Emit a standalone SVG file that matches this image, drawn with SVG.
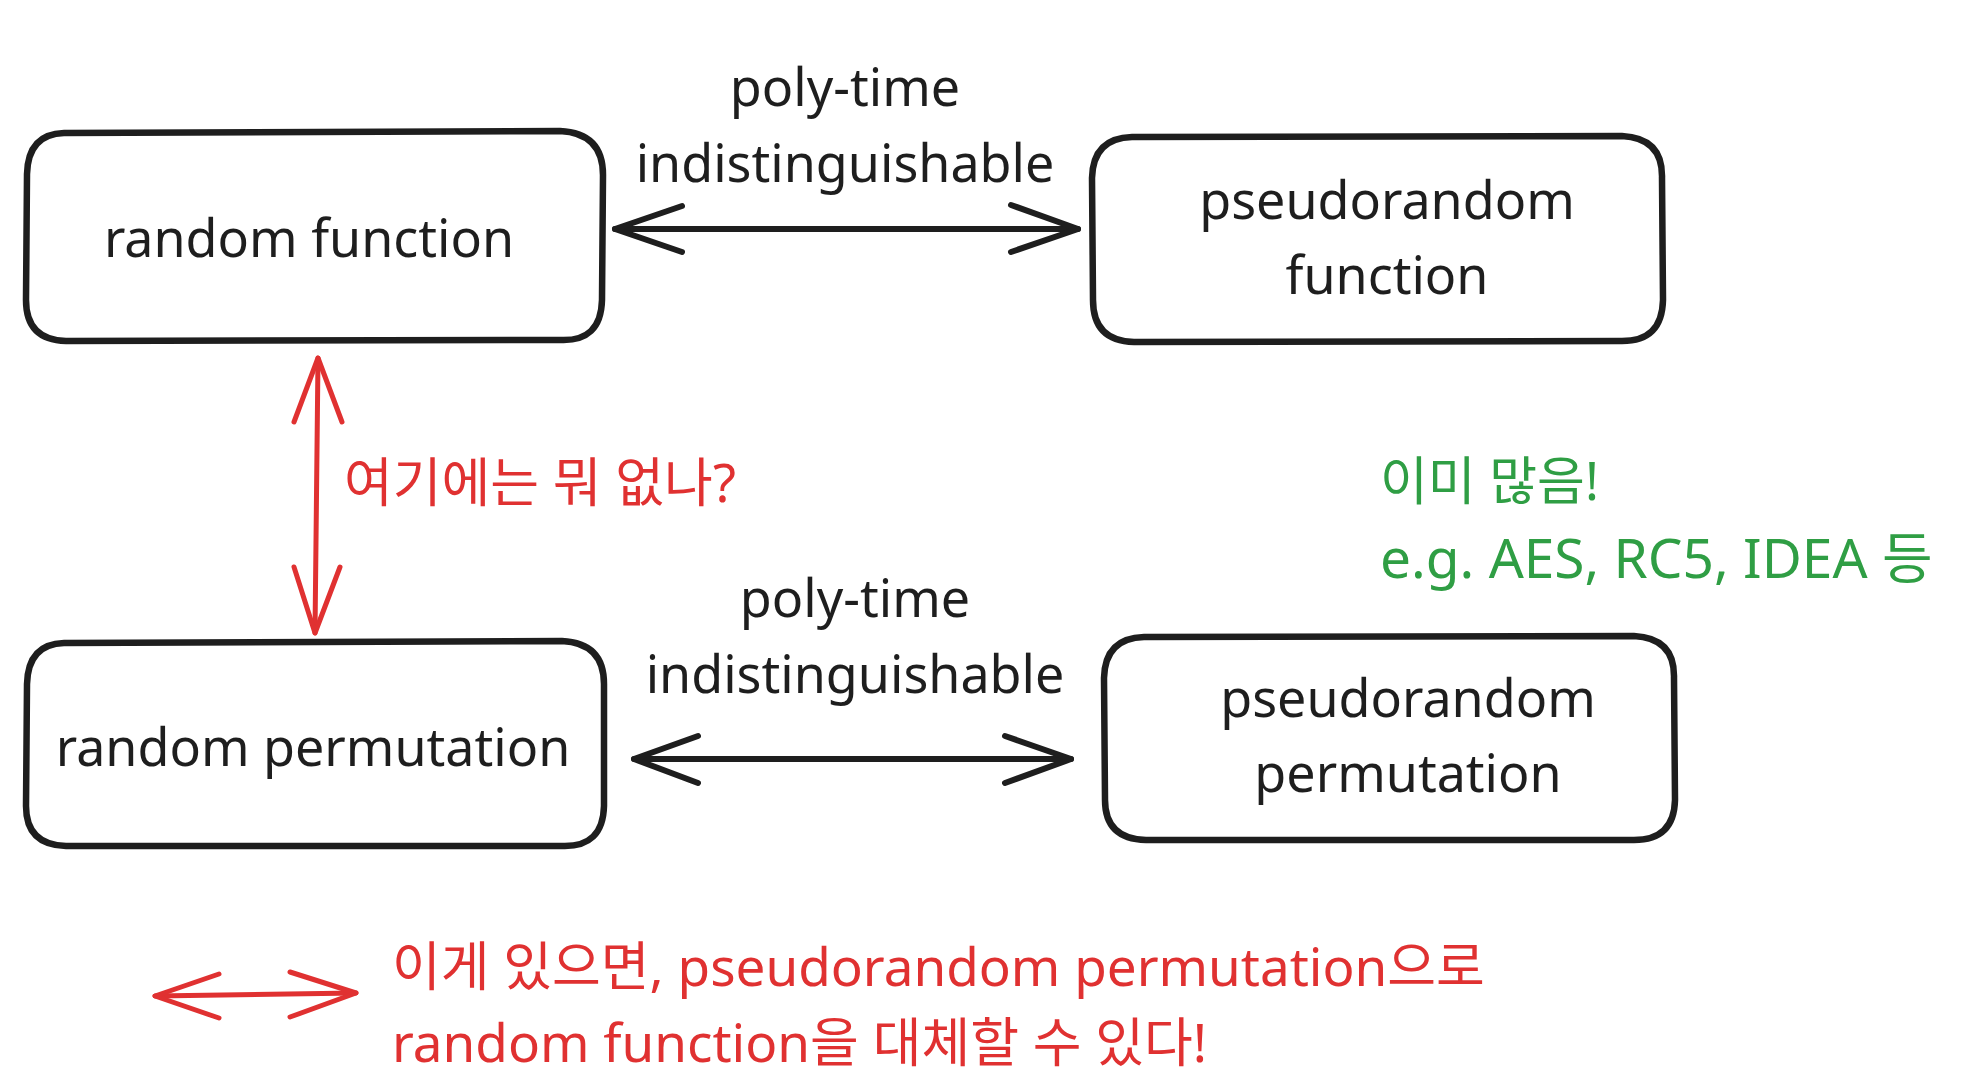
<svg xmlns="http://www.w3.org/2000/svg" width="1963" height="1085" viewBox="0 0 1963 1085">
<style>
.box{fill:#ffffff;stroke:#1e1e1e;stroke-width:6.5;stroke-linejoin:round}
.t{font-family:"Noto Sans","Noto Sans CJK KR",sans-serif;font-size:52px;fill:#1e1e1e}
.m{text-anchor:middle}
.red{fill:#e03131;font-size:53px}
.green{fill:#2f9e44}
.ab{fill:none;stroke:#1e1e1e;stroke-width:6;stroke-linecap:round;stroke-linejoin:round}
.ar{fill:none;stroke:#e03131;stroke-width:5;stroke-linecap:round;stroke-linejoin:round}
</style>
<rect width="1963" height="1085" fill="#ffffff"/>
<g id="node-random-function">
<path class="box" d="M64,133 L560,131 Q603,133 603,175 L602,300 Q601,342 560,340 L66,341 Q26,340 26,300 L27,174 Q28,134 64,133 Z"/>
<text class="t m" x="309" y="257">random function</text>
</g>
<g id="node-pseudorandom-function">
<path class="box" d="M1132,137 L1622,136 Q1663,138 1662,178 L1663,300 Q1662,342 1620,341 L1134,342 Q1093,341 1093,300 L1092,178 Q1093,138 1132,137 Z"/>
<text class="t m" x="1387" y="219">pseudorandom</text>
<text class="t m" x="1387" y="294">function</text>
</g>
<g id="node-random-permutation">
<path class="box" d="M64,643 L562,641 Q604,643 604,684 L604,806 Q603,847 563,846 L66,846 Q26,845 26,806 L27,684 Q28,644 64,643 Z"/>
<text class="t m" x="313" y="766">random permutation</text>
</g>
<g id="node-pseudorandom-permutation">
<path class="box" d="M1144,637 L1634,636 Q1675,638 1674,678 L1675,800 Q1674,841 1632,840 L1146,840 Q1105,839 1105,800 L1104,678 Q1105,638 1144,637 Z"/>
<text class="t m" x="1408" y="717">pseudorandom</text>
<text class="t m" x="1408" y="792">permutation</text>
</g>
<g id="connectors">
<path class="ab" d="M615,229 L1078,229"/>
<path class="ab" d="M682,206 L615,229 L682,252"/>
<path class="ab" d="M1011,205 L1078,229 L1011,252"/>
<path class="ab" d="M634,759 L1071,759"/>
<path class="ab" d="M698,736 L634,759 L698,783"/>
<path class="ab" d="M1005,736 L1071,759 L1005,783"/>
<path class="ar" d="M318,358 L315,633"/>
<path class="ar" d="M294,422 L318,358 L342,422"/>
<path class="ar" d="M294,567 L315,633 L340,567"/>
<path class="ar" d="M155,996 L356,993"/>
<path class="ar" d="M219,974 L155,996 L219,1018"/>
<path class="ar" d="M290,972 L356,993 L290,1017"/>
</g>
<g id="labels">
<text class="t m" x="845" y="106">poly-time</text>
<text class="t m" x="845" y="182">indistinguishable</text>
<text class="t m" x="855" y="617">poly-time</text>
<text class="t m" x="855" y="693">indistinguishable</text>
<text class="t red" x="344" y="502">여기에는 뭐 없나?</text>
<text class="t green" x="1380" y="500">이미 많음!</text>
<text class="t green" x="1380" y="578" style="font-size:55px">e.g. AES, RC5, IDEA 등</text>
<text class="t red" x="392" y="986">이게 있으면, pseudorandom permutation으로</text>
<text class="t red" x="392" y="1062">random function을 대체할 수 있다!</text>
</g>
</svg>
